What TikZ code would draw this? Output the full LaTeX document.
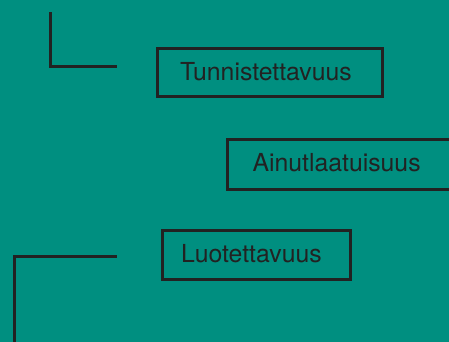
\documentclass[tikz,border=0pt]{standalone}
\usepackage{fontspec}
\setmainfont{TeX Gyre Heros}
\definecolor{bgteal}{RGB}{0,143,128}
\definecolor{ink}{RGB}{34,34,34}
\begin{document}
\begin{tikzpicture}[x=1pt,y=-1pt,
  boxst/.style={draw=ink, line width=3pt, rectangle, inner sep=0pt},
  lbl/.style={anchor=base west, inner sep=0pt, text=ink, font=\fontsize{24.8}{29}\selectfont},
  ln/.style={draw=ink, line width=3pt}]
\useasboundingbox (0,0) rectangle (449,342);
\clip (0,0) rectangle (449,342);
\fill[bgteal] (0,0) rectangle (449,342);
% top-left corner line
\coordinate (a1) at (50,12.5);
\coordinate (a2) at (50,67);
\coordinate (a3) at (116.5,67);
\draw[ln] (a1) -- (a2) -- (a3);
% bottom-left corner line
\coordinate (c1) at (116.5,256);
\coordinate (c2) at (14,256);
\coordinate (c3) at (14,345);
\draw[ln] (c1) -- (c2) -- (c3);
% boxes
\node[boxst, minimum width=224.5pt, minimum height=48.5pt] (b1) at (270,72.5) {};
\node[lbl] (t1) at (180,80.7) {Tunnistettavuus};
\node[boxst, minimum width=245pt, minimum height=49.5pt, anchor=west] (b2) at (225.5,164.3) {};
\node[lbl] (t2) at (252.3,171.7) {Ainutlaatuisuus};
\node[boxst, minimum width=188pt, minimum height=49pt] (b3) at (256,255.3) {};
\node[lbl] (t3) at (181,262.3) {Luotettavuus};
\end{tikzpicture}
\end{document}
